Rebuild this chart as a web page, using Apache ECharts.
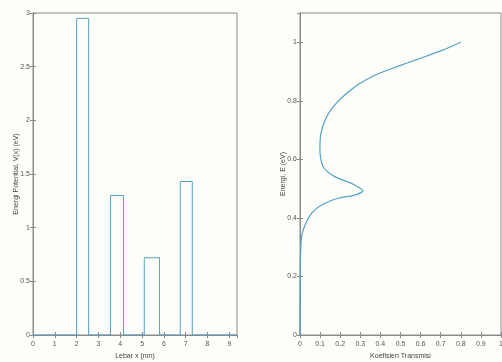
<!DOCTYPE html>
<html>
<head>
<meta charset="utf-8">
<script src="https://cdn.jsdelivr.net/npm/echarts@6/dist/echarts.min.js"></script>
<style>
  html, body { margin: 0; padding: 0; background: #fdfdf9; }
  #chart { width: 502px; height: 362px; }
</style>
</head>
<body>
<div id="chart"></div>
<script>
// potential profile V(x): four rectangular barriers
const xPos = [0, 2, 2, 2.55, 2.55, 3.55, 3.55, 4.15, 4.15, 5.1, 5.1, 5.8, 5.8, 6.75, 6.75, 7.3, 7.3, 9.35];
const vVal = [0, 0, 2.95, 2.95, 0, 0, 1.30, 1.30, 0, 0, 0.72, 0.72, 0, 0, 1.43, 1.43, 0, 0];

// transmission coefficient T(E)
const energy = [0, 0.1, 0.2, 0.28, 0.336, 0.376, 0.416, 0.444, 0.467, 0.478, 0.493, 0.505, 0.518, 0.541, 0.575, 0.632, 0.689, 0.745, 0.791, 0.825, 0.859, 0.89, 0.916, 0.944, 0.973, 1.0];
const trans  = [0, 0, 0.001, 0.003, 0.008, 0.025, 0.058, 0.107, 0.19, 0.272, 0.313, 0.29, 0.256, 0.173, 0.115, 0.099, 0.104, 0.132, 0.18, 0.231, 0.297, 0.38, 0.479, 0.594, 0.71, 0.8];

const lineColor = '#56a2c6';
const axisColor = '#8a8a8a';
const labelStyle = { color: '#555', fontSize: 7, fontFamily: 'Liberation Sans' };
const nameStyle = { fontSize: 7, color: '#444', fontFamily: 'Liberation Sans' };

function mainAxis(extra) {
  return Object.assign({
    type: 'value',
    nameLocation: 'middle',
    nameMoveOverlap: false,
    nameTextStyle: nameStyle,
    axisLine: { show: true, lineStyle: { color: axisColor } },
    axisTick: { show: true, inside: true, length: 3, lineStyle: { color: axisColor } },
    splitLine: { show: false },
  }, extra);
}
function mirrorAxis(extra) {
  return Object.assign({
    type: 'value',
    axisLine: { show: true, lineStyle: { color: axisColor } },
    axisTick: { show: true, inside: true, length: 3, lineStyle: { color: axisColor } },
    splitLine: { show: false },
    axisLabel: { show: false },
  }, extra);
}

const chart = echarts.init(document.getElementById('chart'), null, { renderer: 'canvas' });

chart.setOption({
  animation: false,
  grid: [
    { left: 33, right: 265, top: 13, bottom: 27, outerBoundsMode: 'none', show: true, borderColor: axisColor, borderWidth: 1 },
    { left: 300, right: 1, top: 13, bottom: 27, outerBoundsMode: 'none', show: true, borderColor: axisColor, borderWidth: 1 },
  ],
  xAxis: [
    mainAxis({ gridIndex: 0, min: 0, max: 9.35, interval: 1, name: 'Lebar x (nm)', nameGap: 18,
      axisLabel: Object.assign({ margin: 6, showMaxLabel: false }, labelStyle) }),
    mirrorAxis({ gridIndex: 0, min: 0, max: 9.35, interval: 1, position: 'top' }),
    mainAxis({ gridIndex: 1, min: 0, max: 1, interval: 0.1, name: 'Koefisien Transmisi', nameGap: 18,
      axisLabel: Object.assign({ margin: 6, showMaxLabel: true }, labelStyle) }),
    mirrorAxis({ gridIndex: 1, min: 0, max: 1, interval: 0.1, position: 'top' }),
  ],
  yAxis: [
    mainAxis({ gridIndex: 0, min: 0, max: 3, interval: 0.5, name: 'Energi Potential, V(x) (eV)', nameGap: 13,
      axisLabel: Object.assign({ margin: 3, showMaxLabel: true }, labelStyle) }),
    mirrorAxis({ gridIndex: 0, min: 0, max: 3, interval: 0.5, position: 'right' }),
    mainAxis({ gridIndex: 1, min: 0, max: 1.1, interval: 0.2, name: 'Energi, E (eV)', nameGap: 13,
      axisLabel: Object.assign({ margin: 3, showMaxLabel: false }, labelStyle) }),
    mirrorAxis({ gridIndex: 1, min: 0, max: 1.1, interval: 0.2, position: 'right' }),
  ],
  series: [
    {
      type: 'line', xAxisIndex: 0, yAxisIndex: 0,
      data: xPos.map((x, i) => [x, vVal[i]]),
      showSymbol: false, lineStyle: { color: lineColor, width: 1 },
    },
    {
      type: 'line', xAxisIndex: 2, yAxisIndex: 2,
      data: trans.map((t, i) => [t, energy[i]]),
      smooth: 0.25, showSymbol: false, lineStyle: { color: lineColor, width: 1.2 },
    },
  ],
});
</script>
</body>
</html>
